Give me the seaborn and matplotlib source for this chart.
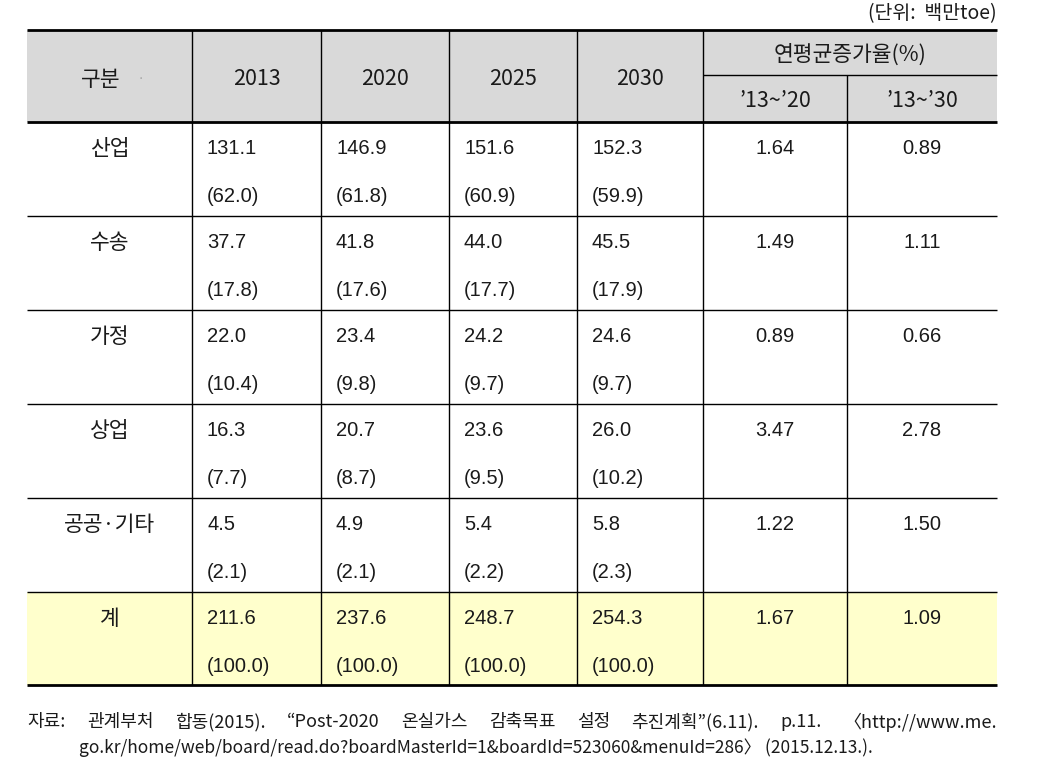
import matplotlib.pyplot as plt
import seaborn as sns

# -------------------------------------------------
# Table contents
# -------------------------------------------------
unit_label = "(단위:  백만toe)"
row_header = "구분"
years = ["2013", "2020", "2025", "2030"]
growth_header = "연평균증가율(%)"
growth_periods = ["’13~’20", "’13~’30"]

sectors = ["산업", "수송", "가정", "상업", "공공·기타", "계"]
use_2013 = [131.1, 37.7, 22.0, 16.3, 4.5, 211.6]
use_2020 = [146.9, 41.8, 23.4, 20.7, 4.9, 237.6]
use_2025 = [151.6, 44.0, 24.2, 23.6, 5.4, 248.7]
use_2030 = [152.3, 45.5, 24.6, 26.0, 5.8, 254.3]
share_2013 = [62.0, 17.8, 10.4, 7.7, 2.1, 100.0]
share_2020 = [61.8, 17.6, 9.8, 8.7, 2.1, 100.0]
share_2025 = [60.9, 17.7, 9.7, 9.5, 2.2, 100.0]
share_2030 = [59.9, 17.9, 9.7, 10.2, 2.3, 100.0]
growth_13_20 = [1.64, 1.49, 0.89, 3.47, 1.22, 1.67]
growth_13_30 = [0.89, 1.11, 0.66, 2.78, 1.50, 1.09]

source_line1 = ["자료:", "관계부처", "합동(2015).", "“Post-2020", "온실가스", "감축목표",
                "설정", "추진계획”(6.11).", "p.11.", "〈http://www.me."]
source_line2 = "go.kr/home/web/board/read.do?boardMasterId=1&boardId=523060&menuId=286〉 (2015.12.13.)."

# -------------------------------------------------
# Style
# -------------------------------------------------
sns.set_theme(style="white")
plt.rcParams["font.family"] = ["Noto Sans CJK KR", "DejaVu Sans"]

HEADER_BG = "#d9d9d9"
TOTAL_BG = "#ffffcc"
TEXT = "#1a1a1a"
NUM_FONT = ["Liberation Sans", "Noto Sans CJK KR"]

# layout (pixel grid)
col_edges = [27, 192, 321, 449, 577, 703, 847, 997]
header_top, header_mid, header_bot = 30, 75, 122
row_h = 94
row_tops = [header_bot + i * row_h for i in range(len(sectors) + 1)]
row_tops[-1] = 685

fig = plt.figure(figsize=(10.5, 7.82), dpi=100)
ax = fig.add_axes([0, 0, 1, 1])
ax.set_xlim(0, 1050)
ax.set_ylim(782, 0)
ax.axis("off")

x0, x1 = col_edges[0], col_edges[-1]

# backgrounds
ax.fill_between([x0, x1], header_top, header_bot, color=HEADER_BG, lw=0)
ax.fill_between([x0, x1], row_tops[-2], row_tops[-1], color=TOTAL_BG, lw=0)

# horizontal rules
ax.hlines([header_top, header_bot, row_tops[-1]], x0, x1, colors="black", lw=2.0)
ax.hlines(row_tops[1:-1], x0, x1, colors="black", lw=1.0)
ax.hlines(header_mid, col_edges[5], x1, colors="black", lw=1.0)

# vertical rules
ax.vlines(col_edges[1:6], header_top, row_tops[-1], colors="black", lw=1.0)
ax.vlines(col_edges[6], header_mid, row_tops[-1], colors="black", lw=1.0)

# header text
hsize = 15.5
ax.text(101, 80, row_header, ha="center", va="center", fontsize=hsize, color=TEXT)
ax.text(141, 79, "·", ha="center", va="center", fontsize=8, color="#999999")
for i, yr in enumerate(years):
    cx = (col_edges[i + 1] + col_edges[i + 2]) / 2
    ax.text(cx, 79, yr, ha="center", va="center", fontsize=hsize, color=TEXT)
ax.text((col_edges[5] + x1) / 2, 55, growth_header, ha="center", va="center",
        fontsize=hsize, color=TEXT)
for i, p in enumerate(growth_periods):
    cx = (col_edges[5 + i] + col_edges[6 + i]) / 2
    ax.text(cx, 101, p, ha="center", va="center", fontsize=hsize, color=TEXT)

# body
uses = [use_2013, use_2020, use_2025, use_2030]
shares = [share_2013, share_2020, share_2025, share_2030]
for r, name in enumerate(sectors):
    top = row_tops[r]
    y1, y2 = top + 26, top + 74
    ax.text((col_edges[0] + col_edges[1]) / 2, y1 + 1, name, ha="center", va="center",
            fontsize=15.5, color=TEXT)
    for c in range(4):
        lx = col_edges[c + 1] + 15
        ax.text(lx, y1, f"{uses[c][r]:.1f}", ha="left", va="center",
                fontsize=14.5, family=NUM_FONT, color=TEXT)
        ax.text(lx, y2, f"({shares[c][r]:.1f})", ha="left", va="center",
                fontsize=14.5, family=NUM_FONT, color=TEXT)
    for c, g in enumerate([growth_13_20, growth_13_30]):
        cx = (col_edges[5 + c] + col_edges[6 + c]) / 2
        ax.text(cx, y1, f"{g[r]:.2f}", ha="center", va="center",
                fontsize=14.5, family=NUM_FONT, color=TEXT)

# unit note
ax.text(x1, 14, unit_label, ha="right", va="center", fontsize=14, color=TEXT)

# source note: first line justified across table width
fsize = 13
renderer = fig.canvas.get_renderer()
words = [ax.text(0, 722, w, ha="left", va="center", fontsize=fsize, color=TEXT)
         for w in source_line1]
widths = []
inv = ax.transData.inverted()
for t in words:
    bb = t.get_window_extent(renderer)
    (a, _), (b, _) = inv.transform([[bb.x0, bb.y0], [bb.x1, bb.y1]])
    widths.append(b - a)
gap = (x1 - x0 - sum(widths)) / (len(words) - 1)
pos = x0
for t, w in zip(words, widths):
    t.set_x(pos)
    pos += w + gap
ax.text(79, 748, source_line2, ha="left", va="center", fontsize=12.5, color=TEXT)

fig.savefig("out.png", dpi=100)
plt.close(fig)
